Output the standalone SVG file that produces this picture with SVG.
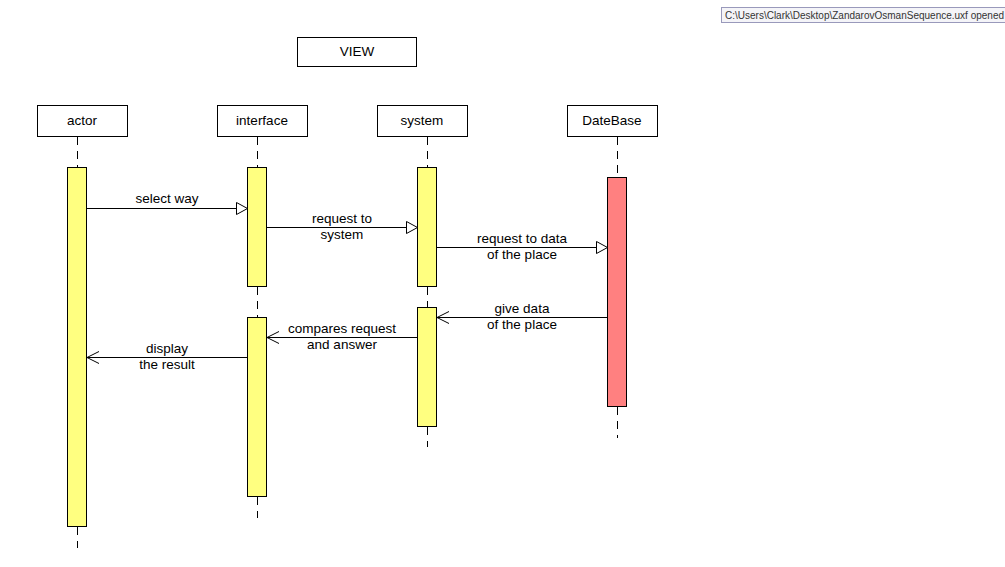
<svg xmlns="http://www.w3.org/2000/svg" width="1005" height="567" viewBox="0 0 1005 567">
<defs>
<style>
text{font-family:"Liberation Sans",Arial,sans-serif;font-size:13.5px;fill:#000;text-anchor:middle}
.hdr{fill:#fff;stroke:#000;stroke-width:1}
.life{stroke:#000;stroke-width:1;stroke-dasharray:8,6;fill:none}
.act{fill:#ffff80;stroke:#000;stroke-width:1}
.db{fill:#ff8080;stroke:#000;stroke-width:1}
.msg{stroke:#000;stroke-width:1;fill:none}
.status{font-size:10px;fill:#333}
</style>
<marker id="tri" markerWidth="14" markerHeight="14" refX="12" refY="7" orient="auto" markerUnits="userSpaceOnUse">
<path d="M1,1 L12,7 L1,13 Z" fill="#fff" stroke="#000" stroke-width="1"/>
</marker>
<marker id="open" markerWidth="14" markerHeight="14" refX="12" refY="7" orient="auto" markerUnits="userSpaceOnUse">
<path d="M0,1 L12,7 L0,13" fill="none" stroke="#000" stroke-width="1"/>
</marker>
</defs>
<rect width="1005" height="567" fill="#fff"/>

<g id="status">
<rect x="721.5" y="7.5" width="290" height="15" fill="#f4f4f8" stroke="#9999bb"/>
<text class="status" x="725" y="19" style="text-anchor:start">C:\Users\Clark\Desktop\ZandarovOsmanSequence.uxf opened</text>
</g>

<g id="view">
<rect class="hdr" x="297.5" y="37.5" width="119" height="29"/>
<text x="357" y="56">VIEW</text>
</g>

<g id="lifelines">
<path class="life" d="M77.5,137 V167 M77.5,527 V548"/>
<path class="life" d="M257.5,137 V167 M257.5,287 V317 M257.5,497 V518"/>
<path class="life" d="M427.5,137 V167 M427.5,287 V307 M427.5,427 V447"/>
<path class="life" d="M617.5,137 V177 M617.5,407 V438"/>
</g>

<g id="actor">
<rect class="hdr" x="37.5" y="105.5" width="90" height="31"/>
<text x="82" y="125">actor</text>
<rect class="act" x="67.5" y="167.5" width="19" height="359"/>
</g>

<g id="interface">
<rect class="hdr" x="217.5" y="105.5" width="90" height="31"/>
<text x="262" y="125">interface</text>
<rect class="act" x="247.5" y="167.5" width="19" height="119"/>
<rect class="act" x="247.5" y="317.5" width="19" height="179"/>
</g>

<g id="system">
<rect class="hdr" x="377.5" y="105.5" width="90" height="31"/>
<text x="422" y="125">system</text>
<rect class="act" x="417.5" y="167.5" width="19" height="119"/>
<rect class="act" x="417.5" y="307.5" width="19" height="119"/>
</g>

<g id="datebase">
<rect class="hdr" x="567.5" y="105.5" width="90" height="31"/>
<text x="612" y="125">DateBase</text>
<rect class="db" x="607.5" y="177.5" width="19" height="229"/>
</g>

<g id="connectors">
<line class="msg" x1="87" y1="208.5" x2="247.5" y2="208.5" marker-end="url(#tri)"/>
<text x="167" y="203">select way</text>

<line class="msg" x1="267" y1="227.5" x2="417.5" y2="227.5" marker-end="url(#tri)"/>
<text x="342" y="223">request to</text>
<text x="342" y="239">system</text>

<line class="msg" x1="437" y1="247.5" x2="607.5" y2="247.5" marker-end="url(#tri)"/>
<text x="522" y="243">request to data</text>
<text x="522" y="259">of the place</text>

<line class="msg" x1="607" y1="317.5" x2="437" y2="317.5" marker-end="url(#open)"/>
<text x="522" y="313">give data</text>
<text x="522" y="329">of the place</text>

<line class="msg" x1="417" y1="337.5" x2="267" y2="337.5" marker-end="url(#open)"/>
<text x="342" y="333">compares request</text>
<text x="342" y="349">and answer</text>

<line class="msg" x1="247" y1="357.5" x2="87" y2="357.5" marker-end="url(#open)"/>
<text x="167" y="353">display</text>
<text x="167" y="369">the result</text>
</g>
</svg>
